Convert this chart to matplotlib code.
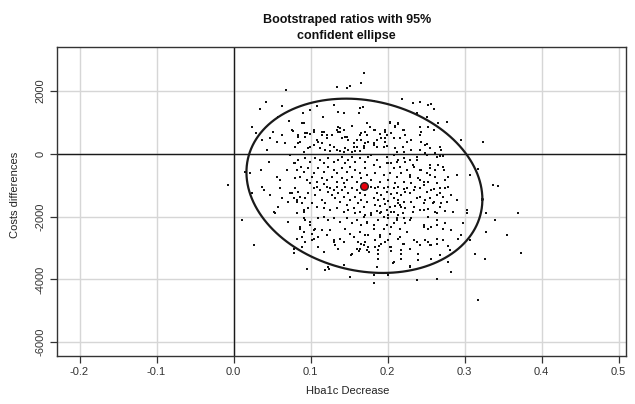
import numpy as np
import matplotlib.pyplot as plt

plt.rcParams['font.family'] = ['Liberation Sans', 'DejaVu Sans']
plt.rcParams['axes.unicode_minus'] = False

# bootstrap replicates: (hba1c decrease, cost difference)
boot_upper = [
    (0.170, 2584), (0.134, 2118), (0.147, 2086), (0.151, 2160), (0.068, 2032), (0.042, 1659),
    (0.035, 1416), (0.063, 1522), (0.024, 842), (0.029, 670), (0.051, 702), (0.058, 1180),
    (0.072, 1053), (0.090, 1308), (0.099, 1394), (0.108, 1522), (0.130, 1553), (0.136, 1340),
    (0.143, 1308), (0.164, 1448), (0.163, 1308), (0.116, 1161), (0.089, 989), (0.077, 734),
    (0.063, 597), (0.047, 491), (0.037, 437), (0.056, 383), (0.067, 332), (0.084, 542),
    (0.086, 383), (0.093, 651), (0.099, 628), (0.104, 756), (0.115, 702), (0.121, 597),
    (0.108, 437), (0.115, 332), (0.125, 278), (0.134, 756), (0.138, 702), (0.136, 842),
    (0.145, 542), (0.149, 437), (0.160, 437), (0.166, 651), (0.173, 970), (0.169, 246),
    (0.156, 204), (0.145, 172), (0.134, 118), (0.119, 118), (0.097, 172), (0.073, -41),
    (0.043, 118), (0.015, -574), (0.022, -626), (0.036, -520), (0.046, -255), (0.056, -734),
    (0.069, -520), (0.080, -306), (0.088, -415),
]
boot_upper_right = [
    (0.166, 2265), (0.219, 1735), (0.233, 1627), (0.242, 1659), (0.253, 1553), (0.257, 1576),
    (0.260, 1416), (0.182, 1691), (0.168, 1480), (0.238, 1289), (0.251, 1180), (0.266, 970),
    (0.277, 1002), (0.296, 437), (0.324, 383), (0.203, 1021), (0.214, 970), (0.210, 884),
    (0.177, 842), (0.184, 756), (0.171, 702), (0.190, 628), (0.197, 702), (0.205, 651),
    (0.220, 756), (0.242, 842), (0.253, 861), (0.244, 702), (0.231, 437), (0.225, 383),
    (0.216, 491), (0.208, 491), (0.197, 491), (0.186, 437), (0.175, 383), (0.182, 278),
    (0.195, 223), (0.210, 172), (0.220, 204), (0.231, 118), (0.242, 118), (0.251, 309),
    (0.262, 13), (0.268, -73), (0.251, -41), (0.272, -73), (0.238, -201), (0.244, -520),
    (0.233, -360), (0.255, -360), (0.262, -520), (0.272, -415), (0.279, -734), (0.290, -680),
    (0.307, -680), (0.318, -498), (0.214, -201), (0.223, -255), (0.208, -41), (0.199, -306),
]
boot_right = [
    (0.337, -998), (0.344, -1021), (0.370, -1882), (0.355, -2593), (0.340, -2115), (0.328, -1901),
    (0.328, -2507), (0.327, -3337), (0.314, -3177), (0.303, -1796), (0.303, -1901), (0.307, -2753),
    (0.298, -2220), (0.282, -1317), (0.285, -1850), (0.277, -1531), (0.290, -1477), (0.283, -2434),
    (0.292, -2699), (0.281, -3072), (0.283, -3764), (0.264, -3975), (0.238, -4029), (0.229, -3605),
    (0.218, -3337), (0.208, -3445), (0.182, -3869), (0.201, -3869), (0.188, -3337), (0.188, -3072),
    (0.173, -3072), (0.240, -3177), (0.257, -3337), (0.268, -3231), (0.272, -2753), (0.264, -2858),
    (0.255, -2912), (0.249, -2753), (0.238, -2806), (0.229, -3018), (0.218, -3072), (0.205, -2967),
    (0.197, -2806), (0.184, -2753), (0.171, -2806), (0.175, -2593), (0.190, -2648), (0.203, -2539),
    (0.216, -2648), (0.225, -2488), (0.247, -2274), (0.257, -2329), (0.272, -2380), (0.264, -2115),
    (0.253, -2010), (0.264, -1901), (0.253, -1774), (0.242, -1796), (0.233, -1850), (0.247, -1582),
    (0.259, -1582), (0.268, -1691), (0.272, -1372), (0.264, -1317), (0.255, -1423), (0.257, -1158),
    (0.268, -1104), (0.279, -1053), (0.275, -839), (0.264, -944), (0.253, -893), (0.247, -998),
    (0.242, -839), (0.255, -680), (0.229, -734), (0.236, -1053), (0.229, -1263), (0.242, -1372),
    (0.231, -1531), (0.218, -1691), (0.220, -1901), (0.212, -2061), (0.223, -2220), (0.208, -2220),
    (0.199, -2274), (0.188, -2115), (0.182, -2380), (0.173, -2220), (0.169, -2010), (0.179, -1955),
    (0.190, -1882), (0.201, -2061), (0.208, -1850), (0.214, -1582),
]
boot_lower = [
    (0.011, -2115), (0.027, -2912), (0.039, -1158), (0.052, -1850), (0.054, -1901), (0.063, -1423),
    (0.071, -1531), (0.078, -3018), (0.089, -2648), (0.095, -3656), (0.102, -2753), (0.117, -3126),
    (0.119, -3710), (0.123, -3605), (0.143, -3551), (0.151, -3924), (0.154, -3177), (0.138, -2699),
    (0.130, -2807), (0.164, -3018), (0.162, -2807), (0.060, -1104), (0.060, -839), (0.073, -1263),
    (0.047, -1317), (0.024, -1263), (0.037, -1053), (0.058, -1691), (0.082, -1531), (0.071, -2169),
    (0.086, -2380), (0.099, -2274), (0.104, -2434), (0.110, -2648), (0.093, -2115), (0.082, -1901),
    (0.091, -1796), (0.079, -3158), (0.091, -2488), (0.102, -2539), (0.124, -3656), (0.132, -2912),
    (0.153, -3231), (0.156, -2648), (0.163, -3094), (0.169, -2912), (0.176, -3126), (0.182, -4115),
    (0.186, -3605), (0.188, -3177), (0.189, -2944), (0.192, -2880), (0.204, -3094), (0.207, -3465),
    (0.218, -3200), (0.220, -2880), (0.229, -3582), (0.240, -3391), (0.257, -2912), (0.278, -2944),
    (0.279, -3445), (0.296, -2593), (0.374, -3158), (0.318, -4667), (-0.007, -1000),
]
boot_center_right = [
    (0.179, -1051), (0.184, -1104), (0.188, -1051), (0.195, -1083), (0.201, -1051), (0.208, -1104),
    (0.214, -1051), (0.221, -1126), (0.225, -1083), (0.186, -1264), (0.192, -1317), (0.199, -1232),
    (0.205, -1296), (0.212, -1264), (0.218, -1317), (0.223, -1232), (0.182, -1423), (0.188, -1476),
    (0.195, -1444), (0.201, -1508), (0.208, -1423), (0.214, -1476), (0.221, -1530), (0.184, -1636),
    (0.190, -1657), (0.197, -1615), (0.203, -1689), (0.210, -1657), (0.216, -1636), (0.223, -1721),
    (0.186, -1827), (0.192, -1848), (0.199, -1795), (0.205, -1870), (0.179, -1902), (0.195, -2008),
    (0.201, -1955), (0.214, -1934), (0.234, -1157), (0.242, -1104), (0.251, -1211), (0.260, -1126),
    (0.268, -1264), (0.275, -1104), (0.238, -1423), (0.249, -1476), (0.260, -1530), (0.270, -1583),
    (0.234, -1689), (0.247, -1795), (0.262, -1848), (0.275, -1827), (0.212, -2114), (0.221, -2061),
    (0.229, -2114), (0.223, -2220), (0.231, -2061), (0.182, -2274), (0.195, -2380), (0.205, -2327),
    (0.216, -2380), (0.247, -2327), (0.253, -2380), (0.264, -2274), (0.275, -2220), (0.190, -2593),
    (0.201, -2752), (0.214, -2699), (0.221, -2858), (0.234, -2752), (0.242, -2911), (0.253, -2805),
    (0.264, -2699), (0.184, -2965), (0.203, -2965), (0.229, -3018),
]
boot_center_left = [
    (0.078, -1423), (0.082, -1476), (0.086, -1370), (0.093, -1423), (0.097, -1264), (0.104, -1104),
    (0.106, -1317), (0.108, -1051), (0.112, -1157), (0.115, -1476), (0.119, -1583), (0.121, -1051),
    (0.123, -1211), (0.125, -1104), (0.128, -1317), (0.130, -1157), (0.132, -1423), (0.134, -1051),
    (0.136, -1264), (0.138, -1530), (0.141, -1157), (0.143, -1370), (0.145, -1051), (0.147, -1636),
    (0.149, -1264), (0.151, -1476), (0.154, -1104), (0.156, -1742), (0.158, -1370), (0.160, -1157),
    (0.162, -1583), (0.164, -1264), (0.166, -1476), (0.169, -1689), (0.171, -1317), (0.173, -1530),
    (0.102, -1583), (0.108, -1689), (0.117, -1742), (0.125, -1795), (0.134, -1742), (0.143, -1848),
    (0.149, -1795), (0.158, -1902), (0.164, -1848), (0.171, -1955), (0.091, -1848), (0.097, -1742),
    (0.084, -1211), (0.089, -1583), (0.080, -1104), (0.076, -1264), (0.091, -2061), (0.099, -2167),
    (0.110, -2061), (0.117, -2008), (0.123, -2114), (0.130, -2061), (0.138, -2167), (0.147, -2061),
    (0.154, -2220), (0.160, -2114), (0.166, -2274), (0.173, -2167), (0.086, -2327), (0.106, -2380),
    (0.115, -2433), (0.125, -2433), (0.145, -2380), (0.151, -2539), (0.164, -2486), (0.171, -2593),
    (0.082, -2699), (0.093, -2805), (0.104, -2699), (0.121, -2593), (0.130, -2752), (0.143, -2805),
    (0.156, -2646), (0.166, -2858), (0.089, -2965), (0.110, -2965), (0.136, -3018), (0.160, -3018),
    (0.175, -2965),
]
boot_mid_left = [
    (0.091, 990), (0.076, 756), (0.084, 597), (0.093, 543), (0.095, 650), (0.104, 703),
    (0.104, 278), (0.110, 384), (0.115, 597), (0.117, 703), (0.121, 490), (0.128, 597),
    (0.130, 225), (0.136, 703), (0.138, 809), (0.143, 756), (0.141, 490), (0.147, 543),
    (0.154, 884), (0.156, 331), (0.160, 225), (0.164, 597), (0.166, 437), (0.171, 331),
    (0.173, 597), (0.169, 171), (0.080, 225), (0.084, 331), (0.099, 225), (0.112, 171),
    (0.119, 118), (0.125, 97), (0.134, 118), (0.138, 97), (0.143, 65), (0.149, 118),
    (0.154, 65), (0.158, 97), (0.164, 97), (0.091, 65), (0.078, -307), (0.084, -201),
    (0.093, -147), (0.099, -254), (0.106, -147), (0.112, -201), (0.117, -307), (0.123, -147),
    (0.130, -254), (0.136, -201), (0.141, -94), (0.145, -307), (0.149, -201), (0.154, -94),
    (0.158, -254), (0.164, -147), (0.171, -254), (0.175, -94), (0.082, -520), (0.091, -573),
    (0.097, -467), (0.104, -626), (0.110, -467), (0.117, -573), (0.123, -413), (0.130, -520),
    (0.134, -626), (0.141, -467), (0.147, -573), (0.151, -413), (0.158, -520), (0.164, -626),
    (0.171, -467), (0.080, -785), (0.086, -732), (0.095, -838), (0.102, -732), (0.108, -892),
    (0.115, -785), (0.121, -838), (0.128, -732), (0.134, -892), (0.141, -785), (0.147, -838),
    (0.154, -732), (0.160, -892), (0.166, -785), (0.173, -679), (0.099, -945), (0.117, -966),
    (0.143, -945),
]
boot_mid_right = [
    (0.203, 990), (0.210, 862), (0.214, 947), (0.182, 756), (0.197, 756), (0.199, 597),
    (0.192, 490), (0.197, 384), (0.182, 331), (0.186, 225), (0.199, 246), (0.221, 756),
    (0.223, 597), (0.231, 437), (0.242, 597), (0.244, 384), (0.249, 278), (0.255, 171),
    (0.260, 756), (0.268, 225), (0.270, 118), (0.212, 65), (0.221, 65), (0.249, 12),
    (0.179, -41), (0.186, -201), (0.199, -94), (0.205, -307), (0.212, -254), (0.221, -147),
    (0.229, -201), (0.238, -94), (0.264, -94), (0.182, -360), (0.190, -413), (0.201, -307),
    (0.208, -467), (0.216, -413), (0.225, -520), (0.234, -413), (0.242, -520), (0.255, -467),
    (0.266, -360), (0.273, -520), (0.184, -626), (0.195, -679), (0.203, -626), (0.212, -732),
    (0.218, -604), (0.229, -679), (0.240, -785), (0.251, -626), (0.262, -732), (0.179, -838),
    (0.190, -892), (0.201, -838), (0.210, -945), (0.221, -892), (0.231, -923), (0.247, -892),
]

# mean of the replicates and the 95% ellipse (scaled covariance)
mean_effect = 0.170
mean_cost = -1020
ellipse_var_x = 0.1532 ** 2
ellipse_var_y = 2775.0 ** 2
ellipse_cov = -66.3

x_ticks = [-0.2, -0.1, 0.0, 0.1, 0.2, 0.3, 0.4, 0.5]
x_tick_labels = ["-0.2", "-0.1", "0.0", "0.1", "0.2", "0.3", "0.4", "0.5"]
y_ticks = [-6000, -4000, -2000, 0, 2000]
y_tick_labels = ["-6000", "-4000", "-2000", "0", "2000"]

pts = np.array(boot_upper + boot_upper_right + boot_right + boot_lower
               + boot_center_right + boot_center_left + boot_mid_left + boot_mid_right)

fig = plt.figure(figsize=(6.35, 4.04), dpi=100)
ax = fig.add_axes([0.0898, 0.118, 0.896, 0.766])
ax.set_xlim(-0.2292, 0.5097)
ax.set_ylim(-6450, 3404)

ax.grid(True, color='#d6d6d6', lw=1.0)
ax.set_axisbelow(True)
ax.axhline(0, color='#1a1a1a', lw=1.0, zorder=1)
ax.axvline(0, color='#1a1a1a', lw=1.0, zorder=1)

ax.plot(pts[:, 0], pts[:, 1], ls='none', marker='s', markersize=1.5,
        markeredgewidth=0, color='#111111', zorder=2)

# ellipse from the covariance
t = np.linspace(0, 2 * np.pi, 300)
chol = np.linalg.cholesky(np.array([[ellipse_var_x, ellipse_cov], [ellipse_cov, ellipse_var_y]]))
ex = mean_effect + chol[0, 0] * np.cos(t)
ey = mean_cost + chol[1, 0] * np.cos(t) + chol[1, 1] * np.sin(t)
ax.plot(ex, ey, color='#1a1a1a', lw=1.6, zorder=3)

ax.plot([mean_effect], [mean_cost], marker='o', markersize=5.5, markerfacecolor='#e8000b',
        markeredgecolor='#202020', markeredgewidth=1.0, ls='none', zorder=4)

ax.set_xticks(x_ticks)
ax.set_xticklabels(x_tick_labels)
ax.set_yticks(y_ticks)
ax.set_yticklabels(y_tick_labels, rotation=90, va='center')
ax.tick_params(direction='out', length=5, width=0.9, color='#333333',
               labelsize=8, labelcolor='#333333', pad=3)
for s in ax.spines.values():
    s.set_color('#333333')
    s.set_linewidth(1.0)

fig.text(0.546, 0.931, 'Bootstraped ratios with 95%\nconfident ellipse', ha='center', va='center',
         fontsize=9, fontweight='bold', linespacing=1.45, color='#111111')
fig.text(0.548, 0.033, 'Hba1c Decrease', ha='center', va='center', fontsize=8, color='#222222')
fig.text(0.024, 0.517, 'Costs differences', ha='center', va='center', rotation=90,
         fontsize=8, color='#222222')

fig.savefig('out.png', dpi=100)
